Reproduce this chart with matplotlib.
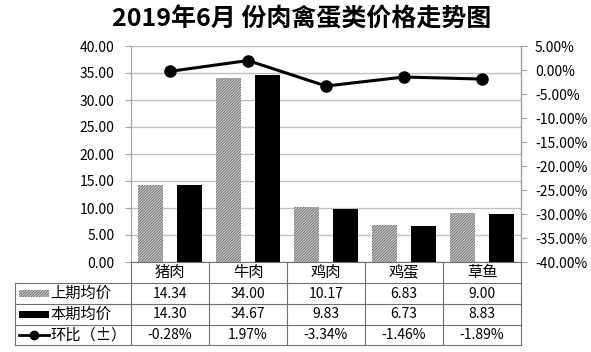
import matplotlib.pyplot as plt
import matplotlib.transforms as mtransforms
from matplotlib.patches import Rectangle
from matplotlib.lines import Line2D
import numpy as np

plt.rcParams['font.family'] = ['Noto Sans CJK SC', 'DejaVu Sans']
plt.rcParams['hatch.linewidth'] = 0.7

# data
categories = ['猪肉', '牛肉', '鸡肉', '鸡蛋', '草鱼']
prev_avg = [14.34, 34.00, 10.17, 6.83, 9.00]
curr_avg = [14.30, 34.67, 9.83, 6.73, 8.83]
mom_change = [-0.28, 1.97, -3.34, -1.46, -1.89]
series_names = ['上期均价', '本期均价', '环比（±）']

W, H = 591, 352
fig = plt.figure(figsize=(W / 100, H / 100), dpi=100)
ax = fig.add_axes([131 / W, (H - 262) / H, 390 / W, 216 / H])

hatch = '////////////'
hc = '#6e6e6e'
hfill = '#d4d4d4'

x = np.arange(len(categories))
bw = 0.33
ax.bar(x - 0.25, prev_avg, bw, color=hfill, edgecolor=hc, hatch=hatch, linewidth=0)
ax.bar(x + 0.25, curr_avg, bw, color='black')
ax.set_xlim(-0.5, 4.5)
ax.set_ylim(0, 40)
ax.set_yticks(np.arange(0, 41, 5))
ax.set_yticklabels([f'{v:.2f}' for v in np.arange(0, 41, 5)])
ax.set_xticks([])
ax.grid(axis='y', color='#c0c0c0', linewidth=1)
ax.set_axisbelow(True)
for s in ['top', 'bottom']:
    ax.spines[s].set_visible(False)
ax.spines['left'].set_color('#a0a0a0')
ax.tick_params(axis='y', length=4, color='#a0a0a0', labelsize=10, pad=8)

ax2 = ax.twinx()
ax2.plot(x, mom_change, color='black', linewidth=2.2, marker='o', markersize=8)
ax2.set_ylim(-40, 5)
ax2.set_yticks(np.arange(-40, 6, 5))
ax2.set_yticklabels([f'{v:.2f}%' for v in np.arange(-40, 6, 5)])
for s in ['top', 'bottom', 'left']:
    ax2.spines[s].set_visible(False)
ax2.spines['right'].set_color('#a0a0a0')
ax2.tick_params(axis='y', length=4, color='#a0a0a0', labelsize=10, pad=6)

fig.text(0.51, (H - 19) / H, '2019年6月 份肉禽蛋类价格走势图', ha='center', va='center',
         fontsize=18, fontweight='bold')

# data table under the chart
tr = mtransforms.blended_transform_factory(ax.transData, fig.transFigure)
ft = fig.transFigure
rows_px = [262, 283, 304, 325, 345]
ry = [(H - p) / H for p in rows_px]
lc = '#707070'
left_f = 15 / W
ax_left_f = 131 / W

for i, yy in enumerate(ry):
    fig.add_artist(Line2D([-0.5, 4.5], [yy, yy], transform=tr, color=lc, lw=0.8))
    if i >= 1:
        fig.add_artist(Line2D([left_f, ax_left_f], [yy, yy], transform=ft, color=lc, lw=0.8))
for xe in np.arange(-0.5, 5, 1):
    fig.add_artist(Line2D([xe, xe], [ry[0], ry[-1]], transform=tr, color=lc, lw=0.8))
fig.add_artist(Line2D([left_f, left_f], [ry[1], ry[-1]], transform=ft, color=lc, lw=0.8))

def mid(i):
    return (ry[i] + ry[i + 1]) / 2

for j, c in enumerate(categories):
    fig.text(x[j], mid(0), c, transform=tr, ha='center', va='center', fontsize=11)
    fig.text(x[j], mid(1), f'{prev_avg[j]:.2f}', transform=tr, ha='center', va='center', fontsize=10)
    fig.text(x[j], mid(2), f'{curr_avg[j]:.2f}', transform=tr, ha='center', va='center', fontsize=10)
    fig.text(x[j], mid(3), f'{mom_change[j]:.2f}%', transform=tr, ha='center', va='center', fontsize=10)

# legend keys in the row labels
kx0, kx1 = 19 / W, 49 / W
kh = 7 / H
fig.add_artist(Rectangle((kx0, mid(1) - kh / 2), kx1 - kx0, kh, transform=ft,
                         facecolor=hfill, edgecolor=hc, hatch=hatch, lw=0))
fig.add_artist(Rectangle((kx0, mid(2) - kh / 2), kx1 - kx0, kh, transform=ft,
                         facecolor='black', lw=0))
fig.add_artist(Line2D([kx0, kx1], [mid(3), mid(3)], transform=ft, color='black', lw=2))
fig.add_artist(Line2D([(kx0 + kx1) / 2], [mid(3)], transform=ft, color='black',
                      marker='o', markersize=6))
for i, name in enumerate(series_names):
    fig.text(50 / W, mid(i + 1), name, transform=ft, ha='left', va='center', fontsize=11)

fig.savefig('out.png', dpi=100)
